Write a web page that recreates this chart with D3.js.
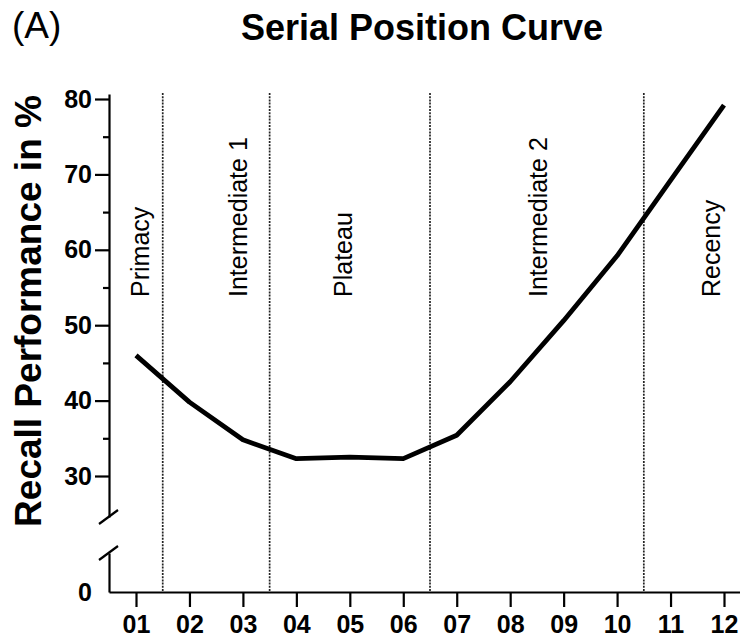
<!DOCTYPE html>
<html>
<head>
<meta charset="utf-8">
<script src="https://cdn.jsdelivr.net/npm/d3@7"></script>
<style>
  html, body { margin: 0; padding: 0; background: #fff; }
  svg { display: block; }
  text { font-family: "Liberation Sans", Arial, Helvetica, sans-serif; fill: #000; }
</style>
</head>
<body>
<svg id="chart" width="740" height="638"></svg>
<script>
// Serial positions (list items) and mean recall in percent
const positions = [1, 2, 3, 4, 5, 6, 7, 8, 9, 10, 11, 12];
const positionLabels = ["01", "02", "03", "04", "05", "06", "07", "08", "09", "10", "11", "12"];
const recall = [46.0, 39.8, 34.8, 32.3, 32.5, 32.3, 35.4, 42.5, 50.6, 59.2, 69.2, 79.2];

// Boundaries between the curve's segments, in serial-position units
const boundaries = [1.5, 3.5, 6.5, 10.5];
const segmentNames = ["Primacy", "Intermediate 1", "Plateau", "Intermediate 2", "Recency"];
const segmentLabelAt = [1.24, 3.08, 5.04, 8.69, 11.93];

// Axis ticks
const yMajorTicks = [30, 40, 50, 60, 70, 80];
const yMinorTicks = [35, 45, 55, 65, 75];
const yLowerTicks = [0];

const svg = d3.select("#chart");

// Scales
const x = d3.scaleLinear().domain([1, 12]).range([136, 724]);
const y = d3.scaleLinear().domain([30, 80]).range([476, 99]);
const yLow = d3.scaleLinear().domain([0, 5]).range([592, 553]);

const axisX0 = 109;      // left edge of the plot frame
const axisY0 = 592;      // baseline of the plot frame
const breakTop = 517;    // where the upper y segment stops
const breakBottom = 553; // where the lower y segment starts

// Panel tag and title
svg.append("text")
  .attr("x", 12).attr("y", 38)
  .attr("font-size", 37)
  .text("(A)");

svg.append("text")
  .attr("x", 422).attr("y", 40)
  .attr("text-anchor", "middle")
  .attr("font-size", 36)
  .attr("font-weight", "bold")
  .text("Serial Position Curve");

// Y axis title
svg.append("text")
  .attr("transform", "translate(41,311) rotate(-90)")
  .attr("text-anchor", "middle")
  .attr("font-size", 37)
  .attr("font-weight", "bold")
  .text("Recall Performance in %");

// Segment boundaries (dotted verticals)
svg.append("g")
  .selectAll("line")
  .data(boundaries)
  .join("line")
  .attr("x1", d => x(d)).attr("x2", d => x(d))
  .attr("y1", 93).attr("y2", axisY0)
  .attr("stroke", "#222")
  .attr("stroke-width", 1.7)
  .attr("stroke-dasharray", "2,1.2");

// Segment names
svg.append("g")
  .selectAll("text")
  .data(segmentNames)
  .join("text")
  .attr("transform", (d, i) => `translate(${x(segmentLabelAt[i])},297) rotate(-90)`)
  .attr("font-size", 25)
  .text(d => d);

function styleAxis(g, withDomain) {
  if (withDomain) g.select(".domain").attr("stroke", "#000").attr("stroke-width", 2.2);
  else g.select(".domain").remove();
  g.selectAll(".tick line").attr("stroke", "#000").attr("stroke-width", 2.2);
  g.selectAll(".tick text")
    .attr("font-family", "Liberation Sans, Arial, sans-serif")
    .attr("font-size", 25)
    .attr("font-weight", "bold")
    .attr("fill", "#000");
}

// X axis, stretched to the plot frame
const xAxisScale = x.copy()
  .domain([x.invert(axisX0), x.invert(740)])
  .range([axisX0, 740]);
svg.append("g")
  .attr("transform", `translate(0,${axisY0})`)
  .call(d3.axisBottom(xAxisScale)
    .tickValues(positions)
    .tickFormat((d, i) => positionLabels[i])
    .tickSize(15)
    .tickSizeOuter(0)
    .tickPadding(8))
  .call(g => styleAxis(g, true));

// Upper Y axis segment (30-80), ending at the break
const yAxisScale = y.copy()
  .domain([y.invert(breakTop), y.invert(94)])
  .range([breakTop, 94]);
svg.append("g")
  .attr("transform", `translate(${axisX0},0)`)
  .call(d3.axisLeft(yAxisScale)
    .tickValues(yMajorTicks)
    .tickFormat(d3.format("d"))
    .tickSize(14)
    .tickSizeOuter(0)
    .tickPadding(3))
  .call(g => styleAxis(g, true));

// Minor ticks on the upper segment
svg.append("g")
  .attr("transform", `translate(${axisX0},0)`)
  .call(d3.axisLeft(yAxisScale)
    .tickValues(yMinorTicks)
    .tickSize(6)
    .tickFormat(""))
  .call(g => styleAxis(g, false));

// Lower Y axis segment (0), from the break to the baseline
svg.append("g")
  .attr("transform", `translate(${axisX0},0)`)
  .call(d3.axisLeft(yLow)
    .tickValues(yLowerTicks)
    .tickFormat(d3.format("d"))
    .tickSize(0)
    .tickSizeOuter(0)
    .tickPadding(17))
  .call(g => styleAxis(g, true));

// Axis break marks
svg.append("g")
  .selectAll("line")
  .data([breakTop, breakBottom])
  .join("line")
  .attr("x1", axisX0 - 10).attr("y1", d => d + 7)
  .attr("x2", axisX0 + 9).attr("y2", d => d - 7)
  .attr("stroke", "#000")
  .attr("stroke-width", 2.2);

// Recall curve
const line = d3.line()
  .x((d, i) => x(positions[i]))
  .y(d => y(d));

svg.append("path")
  .datum(recall)
  .attr("d", line)
  .attr("fill", "none")
  .attr("stroke", "#000")
  .attr("stroke-width", 4.8)
  .attr("stroke-linejoin", "round");
</script>
</body>
</html>
